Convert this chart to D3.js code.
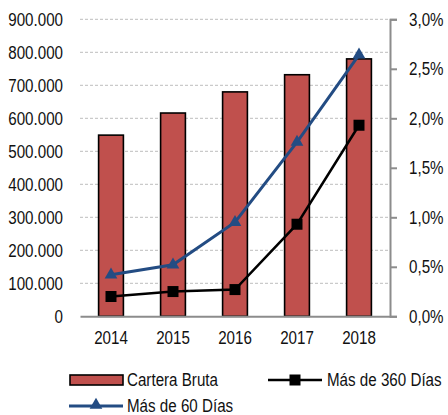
<!DOCTYPE html>
<html><head><meta charset="utf-8">
<script src="https://cdn.jsdelivr.net/npm/d3@7"></script>
<style>body{margin:0;background:#fff}svg{display:block}text{font-family:"Liberation Sans",Arial,sans-serif;fill:#111}</style>
</head><body>
<script>
const years = ["2014","2015","2016","2017","2018"];
const carteraBruta = [549000, 616000, 680000, 732000, 780000];
const mas360 = [0.0020, 0.0025, 0.0027, 0.0093, 0.0193];
const mas60 = [0.0042, 0.0052, 0.0095, 0.0176, 0.0264];
const leftTicks = [0,100000,200000,300000,400000,500000,600000,700000,800000,900000];
const rightTicks = [0,0.005,0.01,0.015,0.02,0.025,0.03];

const W=448,H=415,FS="18.5px",K=0.82;
const svg=d3.select("body").append("svg").attr("width",W).attr("height",H);
const x0=80,x1=390,yTop=19.3,yBot=316.3;
const x=d3.scaleBand().domain(years).range([x0,x1]).paddingInner(0.6).paddingOuter(0.3);
const yL=d3.scaleLinear().domain([0,900000]).range([yBot,yTop]);
const yR=d3.scaleLinear().domain([0,0.03]).range([yBot,yTop]);
const fmtL=v=>v===0?"0":d3.format(",")(v).replace(/,/g,".");
const fmtR=v=>d3.format(".1%")(v).replace(".",",");
// condensed look: scale text horizontally around its anchor x
function condense(sel){
  sel.style("font-size",FS).attr("fill","#111").each(function(){
    const t=d3.select(this); const ax=+(t.attr("x")||0);
    t.attr("transform",`translate(${ax},0) scale(${K},1) translate(${-ax},0)`);
  });
}

// gridlines
svg.append("g").selectAll("line").data(leftTicks.filter(d=>d>0)).join("line")
 .attr("x1",x0).attr("x2",x1).attr("y1",d=>yL(d)).attr("y2",d=>yL(d))
 .attr("stroke","#bdbdbd").attr("stroke-width",1).attr("stroke-dasharray","3,2");

// left axis labels
const gl=svg.append("g").attr("transform",`translate(${x0},0)`)
 .call(d3.axisLeft(yL).tickValues(leftTicks).tickFormat(fmtL).tickSize(0).tickPadding(17));
gl.select(".domain").remove();
gl.selectAll("text").call(condense);

// bars
svg.append("g").selectAll("rect").data(carteraBruta).join("rect")
 .attr("x",(d,i)=>x(years[i])).attr("width",x.bandwidth())
 .attr("y",d=>yL(d)).attr("height",d=>yBot-yL(d))
 .attr("fill","#C0504D").attr("stroke","#000").attr("stroke-width",1.6);

// bottom axis
const gb=svg.append("g").attr("transform",`translate(0,${yBot})`)
 .call(d3.axisBottom(x).tickSize(0).tickPadding(15));
gb.select(".domain").attr("stroke","#8c8c8c").attr("stroke-width",2);
gb.selectAll("text").call(condense);

// right axis
const gr=svg.append("g").attr("transform",`translate(${x1},0)`)
 .call(d3.axisRight(yR).tickValues(rightTicks).tickFormat(fmtR).tickSize(7).tickPadding(12));
gr.select(".domain").attr("stroke","#8c8c8c").attr("stroke-width",2);
gr.selectAll(".tick line").attr("stroke","#8c8c8c").attr("stroke-width",2);
gr.selectAll("text").call(condense);

const cx=i=>x(years[i])+x.bandwidth()/2;
const line=d3.line().x((d,i)=>cx(i)).y(d=>yR(d));

// black line 360
svg.append("path").datum(mas360).attr("d",line).attr("fill","none").attr("stroke","#000").attr("stroke-width",2.5);
svg.append("g").selectAll("rect").data(mas360).join("rect")
 .attr("x",(d,i)=>cx(i)-5.5).attr("y",d=>yR(d)-5.5).attr("width",11).attr("height",11).attr("fill","#000");

// blue line 60
const blue="#234C83";
svg.append("path").datum(mas60).attr("d",line).attr("fill","none").attr("stroke",blue).attr("stroke-width",3);
const tri=d3.symbol().type(d3.symbolTriangle).size(70);
svg.append("g").selectAll("path").data(mas60).join("path")
 .attr("d",tri).attr("transform",(d,i)=>`translate(${cx(i)},${yR(d)})`).attr("fill",blue);

// legend
const lg=svg.append("g");
lg.append("rect").attr("x",70).attr("y",375).attr("width",53).attr("height",10)
 .attr("fill","#C0504D").attr("stroke","#000").attr("stroke-width",1.6);
lg.append("text").attr("x",127).attr("y",380).attr("dy","0.35em").text("Cartera Bruta").call(condense);
lg.append("line").attr("x1",268).attr("x2",322).attr("y1",380).attr("y2",380).attr("stroke","#000").attr("stroke-width",2.5);
lg.append("rect").attr("x",295-5.5).attr("y",380-5.5).attr("width",11).attr("height",11).attr("fill","#000");
lg.append("text").attr("x",327).attr("y",380).attr("dy","0.35em").text("Más de 360 Días").call(condense);
lg.append("line").attr("x1",69).attr("x2",123).attr("y1",406).attr("y2",406).attr("stroke",blue).attr("stroke-width",3);
lg.append("path").attr("d",tri).attr("transform","translate(96,405)").attr("fill",blue);
lg.append("text").attr("x",127).attr("y",405.5).attr("dy","0.35em").text("Más de 60 Días").call(condense);
</script>
</body></html>
